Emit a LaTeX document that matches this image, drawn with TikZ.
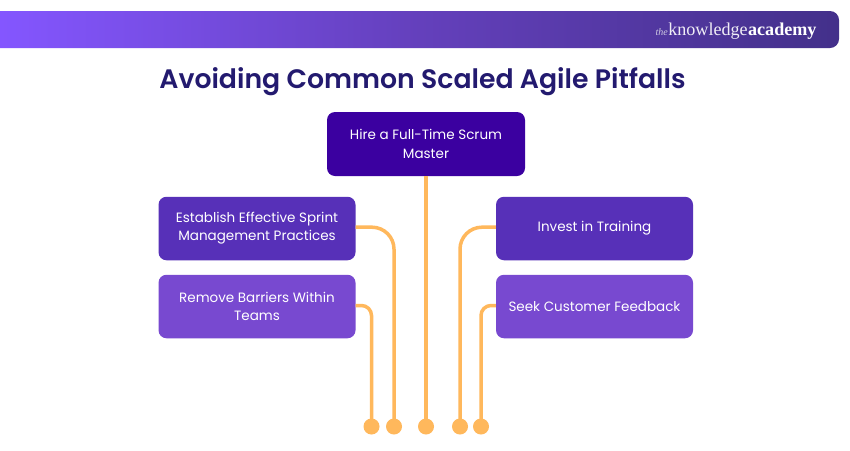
\documentclass[tikz,border=0pt]{standalone}
\usepackage{fontspec}
\setmainfont{Poppins}
\newfontfamily\titlefont{Poppins SemiBold}
\newfontfamily\logofont{Liberation Serif}
\definecolor{barL}{HTML}{8456FF}
\definecolor{barM}{HTML}{6440BC}
\definecolor{barR}{HTML}{43308A}
\definecolor{titlecol}{HTML}{231A6F}
\definecolor{boxA}{HTML}{3B00A0}
\definecolor{boxB}{HTML}{5730B8}
\definecolor{boxC}{HTML}{7849D0}
\definecolor{linecol}{HTML}{FFB85C}
\tikzset{
  pitfall/.style={rounded corners=8pt, minimum height=63.5pt, inner sep=0pt, align=center, text=white, font=\fontsize{13.5}{18.2}\selectfont},
  dotend/.style={circle, fill=linecol, minimum size=16pt, inner sep=0pt},
  wire/.style={draw=linecol, line width=3.5pt}
}
\begin{document}
\begin{tikzpicture}[x=1pt,y=-1pt]
\useasboundingbox (0,0) rectangle (850,450);
\fill[white] (0,0) rectangle (850,450);
\shade[left color=barL, right color=barR, middle color=barM]
  (0,11) -- (0,48) [rounded corners=9pt] -- (839,48) -- (839,11) [sharp corners] -- cycle;
\node[anchor=base west, inner sep=0pt, text=white!75!barR, font=\logofont\itshape\fontsize{10}{10}\selectfont] (logoa) at (655.5,35.5) {the};
\node[anchor=base west, inner sep=0pt, text=white!92!barR, font=\logofont\fontsize{18.1}{18.1}\selectfont] (logob) at (logoa.base east) {knowledge};
\node[anchor=base west, inner sep=0pt, text=white, font=\logofont\bfseries\fontsize{18.1}{18.1}\selectfont] (logoc) at (logob.base east) {academy};
\node[text=titlecol, font=\titlefont\fontsize{26.7}{30}\selectfont, inner sep=0pt] (title) at (422.5,81.5) {Avoiding Common Scaled Agile Pitfalls};

\node[pitfall, fill=boxA, minimum width=198pt, minimum height=64pt] (hire) at (426,144) {Hire a Full-Time Scrum\\[0.8pt]Master};
\node[pitfall, fill=boxB, minimum width=197pt] (sprint) at (257,228.5) {\raisebox{-0.4pt}{Establish Effective Sprint}\\\raisebox{-0.4pt}{Management Practices}};
\node[pitfall, fill=boxC, minimum width=197pt] (barriers) at (257,306.5) {Remove Barriers Within\\Teams};
\node[pitfall, fill=boxB, minimum width=197pt] (training) at (594.5,228.5) {\raisebox{-0.8pt}{Invest in Training}};
\node[pitfall, fill=boxC, minimum width=197pt] (feedback) at (594.5,306.5) {\raisebox{0.8pt}{Seek Customer Feedback}};

\node[dotend] (d1) at (371.5,426.5) {};
\node[dotend] (d2) at (394,426.5) {};
\node[dotend] (d3) at (426,426.5) {};
\node[dotend] (d4) at (460,426.5) {};
\node[dotend] (d5) at (481,426.5) {};

\draw[wire] (hire.south) -- (d3.center);
\draw[wire, rounded corners=22pt] ([yshift=1.3pt]sprint.east) -| (d2.center);
\draw[wire, rounded corners=10pt] ([yshift=1pt]barriers.east) -| (d1.center);
\draw[wire, rounded corners=22pt] ([yshift=1.3pt]training.west) -| (d4.center);
\draw[wire, rounded corners=10pt] ([yshift=1pt]feedback.west) -| (d5.center);
\end{tikzpicture}
\end{document}
